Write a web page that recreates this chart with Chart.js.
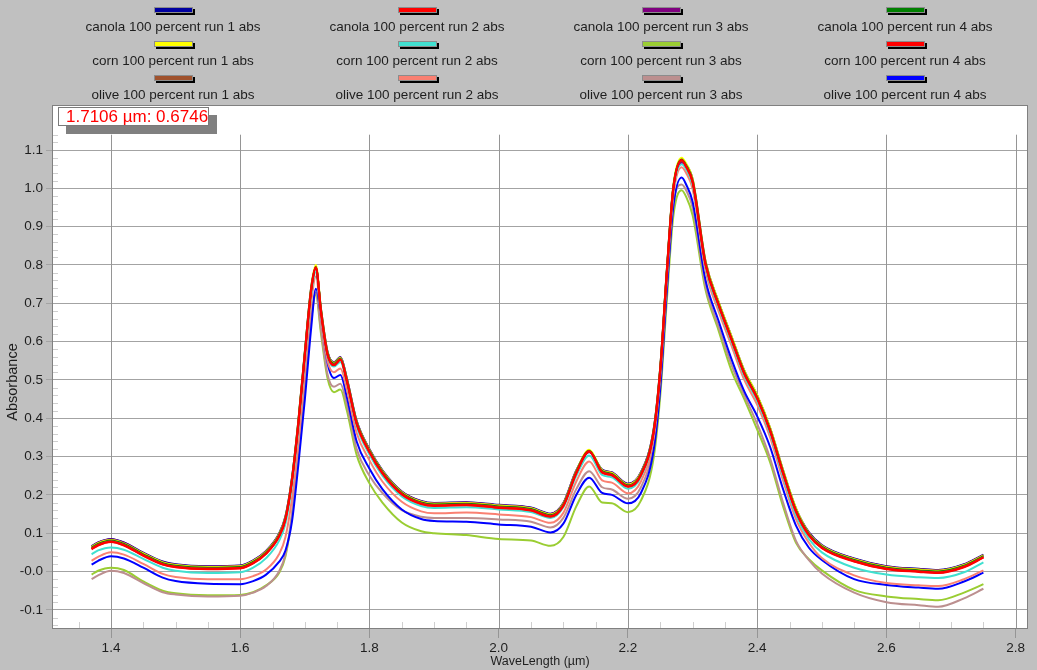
<!DOCTYPE html>
<html>
<head>
<meta charset="utf-8">
<script src="https://cdn.jsdelivr.net/npm/chart.js@4.4.1/dist/chart.umd.min.js"></script>
<style>
html, body { margin: 0; padding: 0; background: #c0c0c0; }
</style>
</head>
<body>
<canvas id="spectra" width="1037" height="670"></canvas>
<script>

// wavelength axis (um), sampled denser around the peaks
const wavelength = [1.37,1.38,1.40,1.42,1.45,1.48,1.50,1.55,1.60,1.62,1.64,1.66,1.67,1.68,1.69,1.70,1.71,1.717,1.725,1.735,1.745,1.755,1.765,1.78,1.80,1.82,1.85,1.88,1.90,1.95,2.00,2.05,2.08,2.10,2.12,2.14,2.16,2.175,2.20,2.22,2.24,2.25,2.26,2.27,2.283,2.29,2.30,2.32,2.34,2.36,2.38,2.40,2.42,2.44,2.46,2.48,2.50,2.55,2.60,2.65,2.68,2.72,2.75];

const canola1 = [0.066,0.076,0.085,0.076,0.049,0.026,0.019,0.014,0.016,0.029,0.054,0.099,0.144,0.244,0.394,0.574,0.744,0.792,0.684,0.574,0.546,0.560,0.504,0.394,0.319,0.264,0.209,0.184,0.179,0.181,0.174,0.167,0.151,0.179,0.264,0.312,0.266,0.259,0.229,0.259,0.374,0.534,0.784,1.002,1.070,1.062,1.024,0.809,0.704,0.614,0.524,0.459,0.374,0.264,0.164,0.102,0.069,0.034,0.014,0.007,0.004,0.019,0.044];
const canola2 = [0.059,0.069,0.078,0.069,0.042,0.019,0.012,0.007,0.009,0.022,0.047,0.092,0.137,0.237,0.387,0.567,0.737,0.793,0.677,0.567,0.539,0.553,0.497,0.387,0.312,0.257,0.202,0.177,0.172,0.174,0.167,0.160,0.144,0.172,0.257,0.313,0.259,0.252,0.222,0.252,0.367,0.527,0.777,0.997,1.073,1.057,1.017,0.802,0.697,0.607,0.517,0.452,0.367,0.257,0.157,0.095,0.062,0.027,0.007,0.000,-0.003,0.012,0.037];
const canola3 = [0.065,0.075,0.084,0.075,0.048,0.025,0.018,0.013,0.015,0.028,0.053,0.098,0.143,0.243,0.393,0.573,0.743,0.790,0.683,0.573,0.545,0.559,0.503,0.393,0.318,0.263,0.208,0.183,0.178,0.180,0.173,0.166,0.150,0.178,0.263,0.312,0.265,0.258,0.228,0.258,0.373,0.533,0.783,1.000,1.068,1.060,1.022,0.808,0.703,0.613,0.523,0.458,0.373,0.263,0.163,0.101,0.068,0.033,0.013,0.006,0.003,0.018,0.043];
const canola4 = [0.062,0.072,0.081,0.072,0.045,0.022,0.015,0.010,0.012,0.025,0.050,0.095,0.140,0.240,0.390,0.570,0.740,0.795,0.680,0.570,0.542,0.556,0.500,0.390,0.315,0.260,0.205,0.180,0.175,0.177,0.170,0.163,0.147,0.175,0.260,0.315,0.262,0.255,0.225,0.255,0.370,0.530,0.780,1.000,1.075,1.060,1.020,0.805,0.700,0.610,0.520,0.455,0.370,0.260,0.160,0.098,0.065,0.030,0.010,0.003,0.000,0.015,0.040];
const corn1 = [0.064,0.074,0.082,0.073,0.047,0.024,0.017,0.012,0.014,0.027,0.052,0.097,0.142,0.242,0.395,0.575,0.745,0.800,0.685,0.572,0.544,0.558,0.502,0.392,0.317,0.262,0.207,0.182,0.177,0.179,0.172,0.165,0.149,0.177,0.262,0.318,0.264,0.257,0.227,0.257,0.372,0.535,0.785,1.005,1.080,1.065,1.025,0.810,0.705,0.615,0.525,0.460,0.375,0.265,0.165,0.100,0.067,0.032,0.012,0.005,0.002,0.017,0.042];
const corn2 = [0.045,0.055,0.063,0.057,0.033,0.010,0.002,-0.004,-0.002,0.010,0.035,0.080,0.125,0.225,0.375,0.555,0.725,0.782,0.672,0.562,0.535,0.547,0.492,0.380,0.305,0.250,0.196,0.171,0.166,0.168,0.162,0.155,0.140,0.168,0.250,0.303,0.252,0.246,0.216,0.247,0.362,0.522,0.770,0.990,1.063,1.050,1.008,0.795,0.690,0.600,0.510,0.445,0.360,0.248,0.147,0.085,0.050,0.010,-0.008,-0.015,-0.017,-0.002,0.024];
const corn3 = [-0.008,0.002,0.010,0.004,-0.026,-0.050,-0.057,-0.062,-0.061,-0.054,-0.036,-0.004,0.040,0.145,0.315,0.495,0.660,0.722,0.620,0.505,0.468,0.475,0.420,0.305,0.230,0.180,0.128,0.105,0.100,0.095,0.085,0.081,0.067,0.090,0.170,0.222,0.180,0.178,0.155,0.185,0.300,0.460,0.705,0.925,0.995,0.978,0.930,0.735,0.630,0.525,0.450,0.370,0.285,0.170,0.075,0.032,0.003,-0.048,-0.065,-0.072,-0.075,-0.055,-0.033];
const corn4 = [0.058,0.068,0.077,0.068,0.041,0.018,0.011,0.006,0.008,0.021,0.046,0.091,0.136,0.236,0.386,0.566,0.736,0.794,0.676,0.566,0.538,0.552,0.496,0.386,0.311,0.256,0.201,0.176,0.171,0.173,0.166,0.159,0.143,0.171,0.256,0.314,0.258,0.251,0.221,0.251,0.366,0.526,0.776,0.996,1.074,1.056,1.016,0.801,0.696,0.606,0.516,0.451,0.366,0.256,0.156,0.094,0.061,0.026,0.006,-0.001,-0.004,0.011,0.036];
const olive1 = [0.060,0.070,0.079,0.070,0.043,0.020,0.013,0.008,0.010,0.023,0.048,0.093,0.138,0.238,0.388,0.568,0.738,0.792,0.678,0.568,0.540,0.554,0.498,0.388,0.313,0.258,0.203,0.178,0.173,0.175,0.168,0.161,0.145,0.173,0.258,0.313,0.260,0.253,0.223,0.253,0.368,0.528,0.778,0.998,1.072,1.058,1.018,0.803,0.698,0.608,0.518,0.453,0.368,0.258,0.158,0.096,0.063,0.028,0.008,0.001,-0.002,0.013,0.038];
const olive2 = [0.028,0.038,0.050,0.044,0.020,-0.006,-0.014,-0.020,-0.020,-0.012,0.005,0.045,0.090,0.190,0.340,0.525,0.705,0.770,0.662,0.550,0.520,0.530,0.475,0.362,0.290,0.235,0.182,0.157,0.152,0.154,0.149,0.142,0.127,0.153,0.235,0.287,0.238,0.232,0.204,0.235,0.350,0.510,0.758,0.978,1.055,1.040,0.998,0.785,0.680,0.590,0.500,0.435,0.350,0.238,0.137,0.075,0.035,-0.010,-0.030,-0.036,-0.038,-0.020,0.003];
const olive3 = [-0.020,-0.010,0.002,-0.004,-0.030,-0.054,-0.060,-0.065,-0.063,-0.055,-0.038,0.000,0.045,0.150,0.320,0.500,0.665,0.728,0.630,0.515,0.482,0.490,0.435,0.320,0.250,0.205,0.160,0.143,0.140,0.140,0.136,0.130,0.115,0.140,0.215,0.262,0.220,0.214,0.190,0.220,0.335,0.495,0.740,0.955,1.010,0.995,0.950,0.745,0.640,0.540,0.460,0.385,0.295,0.180,0.080,0.030,-0.005,-0.055,-0.080,-0.088,-0.092,-0.070,-0.045];
const olive4 = [0.018,0.028,0.040,0.034,0.010,-0.016,-0.025,-0.032,-0.033,-0.025,-0.008,0.025,0.055,0.130,0.280,0.450,0.640,0.738,0.665,0.545,0.505,0.513,0.455,0.340,0.268,0.215,0.162,0.137,0.132,0.130,0.123,0.117,0.102,0.125,0.200,0.245,0.205,0.200,0.178,0.205,0.320,0.480,0.730,0.950,1.028,1.010,0.965,0.760,0.655,0.555,0.470,0.405,0.325,0.215,0.120,0.062,0.030,-0.020,-0.035,-0.042,-0.045,-0.026,-0.003];

const seriesNames = [
  'canola 100 percent run 1 abs','canola 100 percent run 2 abs','canola 100 percent run 3 abs','canola 100 percent run 4 abs',
  'corn 100 percent run 1 abs','corn 100 percent run 2 abs','corn 100 percent run 3 abs','corn 100 percent run 4 abs',
  'olive 100 percent run 1 abs','olive 100 percent run 2 abs','olive 100 percent run 3 abs','olive 100 percent run 4 abs'
];
const seriesValues = [canola1, canola2, canola3, canola4, corn1, corn2, corn3, corn4, olive1, olive2, olive3, olive4];
const seriesColors = ['#0000a0','#ff0000','#800080','#008000','#ffff00','#40e0d0','#9acd32','#ff0000','#a0522d','#fa8072','#bc8f8f','#0000ff'];
// lower = drawn on top
const drawOrder = [6, 1, 5, 3, 4, 7, 11, 0, 2, 8, 10, 9];

const xTicks = [1.4, 1.6, 1.8, 2.0, 2.2, 2.4, 2.6, 2.8];
const xTickLabels = ['1.4','1.6','1.8','2.0','2.2','2.4','2.6','2.8'];
const yTicks = [-0.1, 0, 0.1, 0.2, 0.3, 0.4, 0.5, 0.6, 0.7, 0.8, 0.9, 1.0, 1.1];
const yTickLabels = ['-0.1','-0.0','0.1','0.2','0.3','0.4','0.5','0.6','0.7','0.8','0.9','1.0','1.1'];

const cursorText = '1.7106 \u00b5m: 0.6746';

const FONT = '"Liberation Sans", Arial, sans-serif';
const TEXT = '#1e1e1e';

const decorations = {
  id: 'decorations',
  beforeDraw(chart) {
    const {ctx, chartArea: a} = chart;
    ctx.save();
    ctx.fillStyle = '#c0c0c0';
    ctx.fillRect(0, 0, chart.width, chart.height);
    ctx.fillStyle = '#ffffff';
    ctx.fillRect(a.left, a.top, a.right - a.left, a.bottom - a.top);
    ctx.restore();
  },
  beforeDatasetsDraw(chart) {
    const {ctx, chartArea: a, scales} = chart;
    const sx = scales.x, sy = scales.y;
    ctx.save();
    // vertical grid lines (they stop a little below the plot top)
    ctx.strokeStyle = '#959595';
    ctx.lineWidth = 1;
    const gTop = sy.getPixelForValue(1.14);
    xTicks.forEach(v => {
      const px = Math.round(sx.getPixelForValue(v)) + 0.5;
      ctx.beginPath();
      ctx.moveTo(px, gTop);
      ctx.lineTo(px, a.bottom);
      ctx.stroke();
    });
    // minor ticks
    ctx.strokeStyle = '#cfcfcf';
    for (let k = 27; k <= 56; k++) {
      if (k % 4 === 0) continue;
      const px = Math.round(sx.getPixelForValue(k * 0.05)) + 0.5;
      ctx.beginPath();
      ctx.moveTo(px, a.bottom - 7);
      ctx.lineTo(px, a.bottom);
      ctx.stroke();
    }
    for (let k = -7; k <= 57; k++) {
      if (k % 5 === 0) continue;
      const py = Math.round(sy.getPixelForValue(k * 0.02)) + 0.5;
      ctx.beginPath();
      ctx.moveTo(a.left, py);
      ctx.lineTo(a.left + 6, py);
      ctx.stroke();
    }
    ctx.restore();
  },
  afterDraw(chart) {
    const {ctx, chartArea: a} = chart;
    ctx.save();
    // plot frame
    ctx.strokeStyle = '#808080';
    ctx.lineWidth = 1;
    ctx.strokeRect(a.left + 0.5, a.top + 0.5, a.right - a.left - 1, a.bottom - a.top - 1);

    // cursor readout box
    const bx = a.left + 6, by = a.top + 2, bw = 151, bh = 19;
    ctx.fillStyle = '#808080';
    ctx.fillRect(bx + 8, by + 8, bw, bh);
    ctx.fillStyle = '#ffffff';
    ctx.fillRect(bx, by, bw, bh);
    ctx.strokeStyle = '#7a7a7a';
    ctx.strokeRect(bx + 0.5, by + 0.5, bw - 1, bh - 1);
    ctx.fillStyle = '#ff0000';
    ctx.font = '17px ' + FONT;
    ctx.textAlign = 'left';
    ctx.textBaseline = 'middle';
    ctx.fillText(cursorText, bx + 8, by + bh / 2 + 1);

    // legend: swatch above text, 4 columns x 3 rows
    ctx.font = '13.5px ' + FONT;
    ctx.textAlign = 'center';
    seriesNames.forEach((name, i) => {
      const col = i % 4, row = Math.floor(i / 4);
      const cx = 173 + col * 244;
      const sy0 = 7 + row * 34;
      ctx.fillStyle = '#000000';
      ctx.fillRect(cx - 19 + 2, sy0 + 2, 39, 6);
      ctx.fillStyle = seriesColors[i];
      ctx.fillRect(cx - 19, sy0, 39, 6);
      ctx.strokeStyle = '#8c8c8c';
      ctx.strokeRect(cx - 19 + 0.5, sy0 + 0.5, 38, 5);
      ctx.fillStyle = TEXT;
      ctx.fillText(name, cx, 27.5 + row * 33.7);
    });

    // axis titles
    ctx.font = '12.5px ' + FONT;
    ctx.fillText('WaveLength (\u00b5m)', (a.left + a.right) / 2, 662);
    ctx.translate(13, 382);
    ctx.rotate(-Math.PI / 2);
    ctx.font = '14.5px ' + FONT;
    ctx.fillText('Absorbance', 0, 0);
    ctx.restore();
  }
};

const datasets = seriesValues.map((vals, i) => ({
  label: seriesNames[i],
  data: wavelength.map((x, j) => ({x: x, y: vals[j]})),
  borderColor: seriesColors[i],
  backgroundColor: seriesColors[i],
  borderWidth: 2,
  pointRadius: 0,
  cubicInterpolationMode: 'monotone',
  fill: false,
  order: drawOrder[i]
}));

new Chart(document.getElementById('spectra'), {
  type: 'line',
  data: { datasets: datasets },
  options: {
    responsive: false,
    animation: false,
    devicePixelRatio: 1,
    layout: { padding: { left: 0, top: 105, right: 9, bottom: 0 } },
    plugins: {
      legend: { display: false },
      tooltip: { enabled: false }
    },
    scales: {
      x: {
        type: 'linear',
        min: 1.3087,
        max: 2.819,
        afterBuildTicks: s => { s.ticks = xTicks.map(v => ({value: v})); },
        afterFit: s => { s.height = 41; },
        ticks: {
          callback: (v, i) => xTickLabels[i],
          autoSkip: false,
          maxRotation: 0,
          padding: 2,
          color: TEXT,
          font: { family: FONT, size: 13.5 }
        },
        grid: { drawOnChartArea: false, tickLength: 9, color: '#959595' },
        border: { display: false }
      },
      y: {
        min: -0.15,
        max: 1.2175,
        afterBuildTicks: s => { s.ticks = yTicks.map(v => ({value: v})); },
        afterFit: s => { s.width = 52; },
        ticks: {
          callback: (v, i) => yTickLabels[i],
          autoSkip: false,
          padding: 3,
          color: TEXT,
          font: { family: FONT, size: 13.5 }
        },
        grid: { tickLength: 6, color: '#a3a3a3' },
        border: { display: false }
      }
    }
  },
  plugins: [decorations]
});
</script>
</body>
</html>
